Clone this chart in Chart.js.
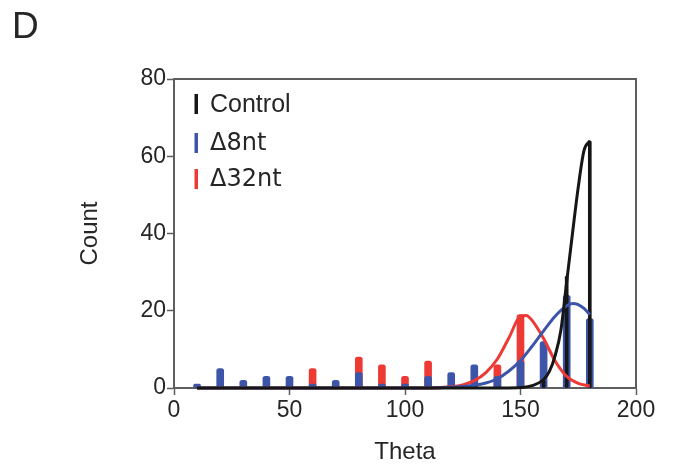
<!DOCTYPE html>
<html>
<head>
<meta charset="utf-8">
<script src="https://cdn.jsdelivr.net/npm/chart.js@4/dist/chart.umd.min.js"></script>
<style>
  html, body { margin: 0; padding: 0; background: #fff; }
  #wrap { width: 673px; height: 472px; }
</style>
</head>
<body>
<div id="wrap"><canvas id="thetaChart"></canvas></div>
<script>
// ─── DATA ────────────────────────────────────────────────────
const thetaBins     = [10, 20, 30, 40, 50, 60, 70, 80, 90, 100, 110, 120, 130, 140, 150, 160, 170, 180];
const controlCounts = [0, 0, 0, 0, 0, 0, 0, 0, 0, 0, 0, 0, 0, 0, 0, 2, 29, 64];
const d8ntCounts    = [1, 5, 2, 3, 3, 1, 2, 4, 1, 1, 3, 4, 6, 3, 7, 12, 24, 18];
const d32ntCounts   = [0, 0, 0, 0, 0, 5, 0, 8, 6, 3, 7, 0, 0, 6, 19, 0, 0, 0];

// fitted curves, sampled by eye
const controlFitX = [10, 145, 150, 155, 160, 162.5, 165, 167.5, 170, 172.5, 175, 177.5, 180];
const controlFitY = [0, 0, 0.1, 0.6, 2.2, 4.3, 8.4, 15, 27.5, 40, 52, 61.5, 64];
const d8ntFitX    = [10, 110, 120, 130, 135, 140, 145, 150, 155, 160, 165, 170, 172.5, 175, 177.5, 180];
const d8ntFitY    = [0, 0, 0.2, 0.7, 1.3, 2.4, 4.4, 7.1, 10.8, 14.8, 18.6, 21.3, 21.9, 21.6, 20.6, 19];
const d32ntFitX   = [10, 110, 120, 125, 130, 135, 140, 145, 150, 152.5, 155, 160, 165, 170, 175, 180];
const d32ntFitY   = [0, 0, 0.3, 0.8, 1.9, 4, 7.5, 13, 18.6, 18.8, 17.5, 12.8, 7, 3, 1.2, 0.5];

const xTicks = [0, 50, 100, 150, 200];
const yTicks = [0, 20, 40, 60, 80];

const seriesNames = ['Control', '\u03948nt', '\u039432nt'];

// ─── STYLE ───────────────────────────────────────────────────
const BLACK = '#161616';
const BLUE  = '#3d55a8';
const RED   = '#ee3a35';
const AXIS  = '#5e5e5e';
const TEXT  = '#262626';

Chart.defaults.font.family = "'Liberation Sans', Arial, sans-serif";
Chart.defaults.color = TEXT;

const toPoints = (xs, ys) => xs.map((x, i) => ({ x, y: ys[i] }));

function barSet(label, counts, color, thickness, order) {
    return {
        type: 'bar',
        label,
        data: toPoints(thetaBins, counts),
        backgroundColor: color,
        borderWidth: 0,
        borderRadius: 2.5,
        barThickness: thickness,
        grouped: false,
        order
    };
}

function fitSet(label, xs, ys, color, order) {
    return {
        type: 'line',
        label,
        data: toPoints(xs, ys),
        borderColor: color,
        borderWidth: 3,
        pointRadius: 0,
        fill: false,
        cubicInterpolationMode: 'monotone',
        clip: false,
        order
    };
}

// Frame on top/right and a hand-placed legend (mixed font sizes as in the figure)
const frameAndLegend = {
    id: 'frameAndLegend',
    afterDraw(chart) {
        const { ctx, chartArea: a } = chart;
        ctx.save();
        ctx.strokeStyle = AXIS;
        ctx.lineWidth = 2;
        ctx.beginPath();
        ctx.moveTo(a.left, a.top);
        ctx.lineTo(a.right, a.top);
        ctx.lineTo(a.right, a.bottom);
        ctx.stroke();

        const rows = [
            { text: seriesNames[0], color: BLACK, y: a.top + 25, font: "25px 'Liberation Sans', Arial, sans-serif" },
            { text: seriesNames[1], color: BLUE,  y: a.top + 64, font: "24px 'DejaVu Sans', sans-serif" },
            { text: seriesNames[2], color: RED,   y: a.top + 100, font: "24px 'DejaVu Sans', sans-serif" }
        ];
        rows.forEach(r => {
            ctx.fillStyle = r.color;
            ctx.fillRect(a.left + 20.5, r.y - 10, 3.5, 20);
            ctx.fillStyle = TEXT;
            ctx.font = r.font;
            ctx.textBaseline = 'middle';
            ctx.textAlign = 'left';
            ctx.fillText(r.text, a.left + 36, r.y + 1);
        });
        ctx.restore();
    }
};

new Chart(document.getElementById('thetaChart'), {
    type: 'line',
    data: {
        datasets: [
            barSet(seriesNames[2], d32ntCounts, RED, 7, 7),
            barSet(seriesNames[1], d8ntCounts, BLUE, 7, 6),
            barSet(seriesNames[0], controlCounts, BLACK, 3, 5),
            fitSet(seriesNames[2] + ' fit', d32ntFitX, d32ntFitY, RED, 3),
            fitSet(seriesNames[1] + ' fit', d8ntFitX, d8ntFitY, BLUE, 2),
            fitSet(seriesNames[0] + ' fit', controlFitX, controlFitY, BLACK, 1)
        ]
    },
    options: {
        responsive: true,
        maintainAspectRatio: false,
        animation: false,
        layout: { padding: { left: 12, right: 37, top: 0, bottom: 0 } },
        plugins: {
            legend: { display: false },
            tooltip: { enabled: false },
            title: {
                display: true,
                text: 'D',
                align: 'start',
                color: TEXT,
                font: { size: 37, weight: 'normal' },
                padding: { top: 6, bottom: 28.6 }
            }
        },
        scales: {
            x: {
                type: 'linear',
                min: 0,
                max: 200,
                offset: false,
                afterBuildTicks: scale => { scale.ticks = xTicks.map(v => ({ value: v })); },
                afterFit: scale => { scale.height = 84; },
                ticks: { font: { size: 23 }, color: TEXT, padding: 2, maxRotation: 0 },
                grid: { drawOnChartArea: false, offset: false, tickLength: 7, tickColor: AXIS, tickWidth: 1.5 },
                border: { color: AXIS, width: 2 },
                title: { display: true, text: 'Theta', color: TEXT, font: { size: 24 }, padding: { top: 0, bottom: 5.6 } }
            },
            y: {
                min: 0,
                max: 80,
                afterBuildTicks: scale => { scale.ticks = yTicks.map(v => ({ value: v })); },
                afterFit: scale => { scale.width = 162; },
                ticks: { font: { size: 23 }, color: TEXT, padding: 1 },
                grid: { drawOnChartArea: false, tickLength: 7, tickColor: AXIS, tickWidth: 1.5 },
                border: { color: AXIS, width: 2 },
                title: { display: true, text: 'Count', color: TEXT, font: { size: 24 }, padding: { top: 63.6, bottom: 0 } }
            }
        }
    },
    plugins: [frameAndLegend]
});
</script>
</body>
</html>
